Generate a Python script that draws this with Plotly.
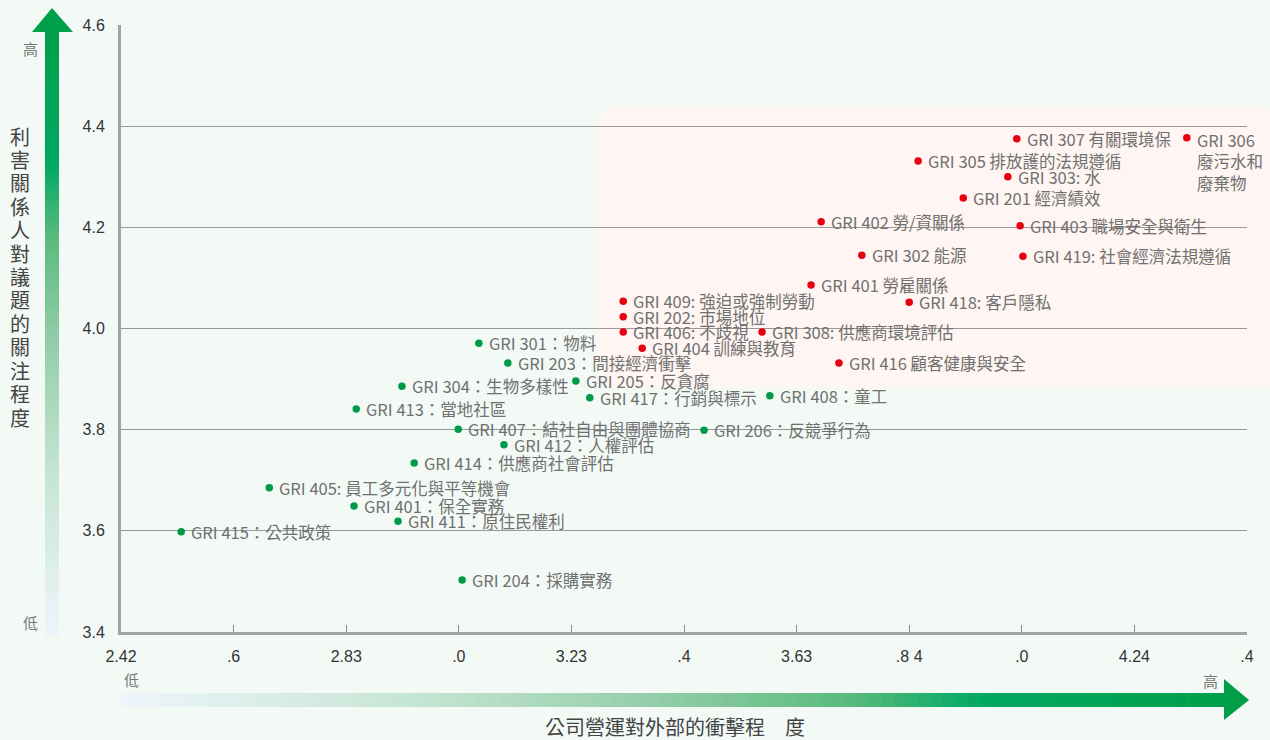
import numpy as np
import plotly.graph_objects as go

# ---------------- data ----------------
red_labels = [
    "GRI 307 有關環境保", "GRI 306<br>廢污水和<br>廢棄物", "GRI 305 排放護的法規遵循", "GRI 303: 水",
    "GRI 201 經濟績效", "GRI 402 勞/資關係", "GRI 403 職場安全與衛生", "GRI 302 能源",
    "GRI 419: 社會經濟法規遵循", "GRI 401 勞雇關係", "GRI 409: 強迫或強制勞動", "GRI 418: 客戶隱私",
    "GRI 202: 市場地位", "GRI 406: 不歧視", "GRI 308: 供應商環境評估", "GRI 404 訓練與教育",
    "GRI 416 顧客健康與安全",
]
red_x = [4.027, 4.332, 3.850, 4.011, 3.931, 3.676, 4.033, 3.749, 4.038, 3.658, 3.321, 3.834,
         3.321, 3.321, 3.570, 3.355, 3.708]
red_y = [4.375, 4.377, 4.331, 4.300, 4.258, 4.211, 4.203, 4.145, 4.143, 4.086, 4.054, 4.052,
         4.023, 3.993, 3.993, 3.961, 3.932]

green_labels = [
    "GRI 301：物料", "GRI 203：間接經濟衝擊", "GRI 304：生物多樣性", "GRI 205：反貪腐",
    "GRI 417：行銷與標示", "GRI 408：童工", "GRI 413：當地社區", "GRI 407：結社自由與團體協商",
    "GRI 206：反競爭行為", "GRI 412：人權評估", "GRI 414：供應商社會評估", "GRI 405: 員工多元化與平等機會",
    "GRI 401：保全實務", "GRI 411：原住民權利", "GRI 415：公共政策", "GRI 204：採購實務",
]
green_x = [3.062, 3.114, 2.924, 3.236, 3.261, 3.584, 2.842, 3.025, 3.466, 3.107, 2.946, 2.686,
           2.838, 2.917, 2.528, 3.032]
green_y = [3.971, 3.932, 3.886, 3.896, 3.863, 3.867, 3.841, 3.801, 3.799, 3.770, 3.734, 3.685,
           3.649, 3.619, 3.598, 3.503]

x_min, x_max = 2.42, 4.44
x_tick_text = ["2.42", ".6", "2.83", ".0", "3.23", ".4", "3.63", ".8 4", ".0", "4.24", ".4"]
y_min, y_max = 3.4, 4.6

y_title = "利害關係人對議題的關注程度"
x_title = "公司營運對外部的衝擊程　度"

# ---------------- layout helpers ----------------
W, H = 1270, 740
L, R, T, B = 121, 23, 25, 108
PW, PH = W - L - R, H - T - B


def px(xp):
    return (xp - L) / PW


def py(yp):
    return (H - B - yp) / PH


BG = "#f3faf6"
RED = "#e60012"
GREEN = "#009b48"
LABEL_FONT = dict(family="Noto Sans CJK TC", size=16.5, color="#707070")

fig = go.Figure()
fig.add_trace(go.Scatter(x=red_x, y=red_y, mode="markers",
                         marker=dict(color=RED, size=7.5), hoverinfo="skip", showlegend=False))
fig.add_trace(go.Scatter(x=green_x, y=green_y, mode="markers",
                         marker=dict(color=GREEN, size=7.5), hoverinfo="skip", showlegend=False))

annotations = []
for lab, xv, yv in list(zip(red_labels, red_x, red_y)) + list(zip(green_labels, green_x, green_y)):
    multi = "<br>" in lab
    annotations.append(dict(
        x=xv, y=yv, xref="x", yref="y", text=lab, showarrow=False,
        xanchor="left", yanchor="top" if multi else "middle",
        xshift=8, yshift=12 if multi else 0, align="left", font=LABEL_FONT))

shapes = []
# pink highlight rounded rectangle
x0, x1, y0, y1, r = 598, 1280, 107, 388, 22
path = (f"M {px(x0 + r)} {py(y0)} L {px(x1 - r)} {py(y0)} Q {px(x1)} {py(y0)} {px(x1)} {py(y0 + r)} "
        f"L {px(x1)} {py(y1 - r)} Q {px(x1)} {py(y1)} {px(x1 - r)} {py(y1)} "
        f"L {px(x0 + r)} {py(y1)} Q {px(x0)} {py(y1)} {px(x0)} {py(y1 - r)} "
        f"L {px(x0)} {py(y0 + r)} Q {px(x0)} {py(y0)} {px(x0 + r)} {py(y0)} Z")
shapes.append(dict(type="path", xref="paper", yref="paper", path=path,
                   fillcolor="#fff5f2", line=dict(width=0), layer="below"))

# gradient helper
stops = [(0.0, (238, 245, 252)), (0.27, (197, 229, 211)), (0.5, (143, 204, 165)),
         (0.66, (90, 186, 126)), (0.78, (0, 168, 98)), (1.0, (0, 160, 74))]


def grad(t):
    for (t0, c0), (t1, c1) in zip(stops[:-1], stops[1:]):
        if t <= t1:
            f = (t - t0) / (t1 - t0)
            c = [round(a + (b - a) * f) for a, b in zip(c0, c1)]
            return f"rgb({c[0]},{c[1]},{c[2]})"
    c = stops[-1][1]
    return f"rgb({c[0]},{c[1]},{c[2]})"


N = 90
# vertical arrow shaft (bottom y=636 -> top y=31)
vb, vt = 636, 31
for i in range(N):
    ya = vb - (vb - vt) * i / N
    yb = vb - (vb - vt) * (i + 1) / N - 0.6
    shapes.append(dict(type="rect", xref="paper", yref="paper", x0=px(45), x1=px(59),
                       y0=py(ya), y1=py(yb), fillcolor=grad((i + 0.5) / N), line=dict(width=0),
                       layer="below"))
shapes.append(dict(type="path", xref="paper", yref="paper",
                   path=f"M {px(32)} {py(32)} L {px(52)} {py(8)} L {px(73)} {py(32)} Z",
                   fillcolor="rgb(0,160,74)", line=dict(width=0), layer="below"))
# horizontal arrow shaft (x=120 -> 1225)
hl, hr = 120, 1225
for i in range(N):
    xa = hl + (hr - hl) * i / N
    xb = hl + (hr - hl) * (i + 1) / N + 0.6
    shapes.append(dict(type="rect", xref="paper", yref="paper", x0=px(xa), x1=px(xb),
                       y0=py(707), y1=py(693), fillcolor=grad((i + 0.5) / N), line=dict(width=0),
                       layer="below"))
shapes.append(dict(type="path", xref="paper", yref="paper",
                   path=f"M {px(1224)} {py(679)} L {px(1249)} {py(700)} L {px(1224)} {py(720)} Z",
                   fillcolor="rgb(0,158,72)", line=dict(width=0), layer="below"))

# axis titles and low/high labels
TITLE_FONT = dict(family="Noto Sans CJK TC", size=20, color="#444444")
SMALL_FONT = dict(family="Noto Sans CJK TC", size=15, color="#777777")
n = len(y_title)
for i, ch in enumerate(y_title):
    yp = 136 + i * (417 - 136) / (n - 1)
    annotations.append(dict(x=px(20), y=py(yp), xref="paper", yref="paper", text=ch,
                            showarrow=False, xanchor="center", yanchor="middle", font=TITLE_FONT))
annotations.append(dict(x=px(675), y=py(726), xref="paper", yref="paper", text=x_title,
                        showarrow=False, xanchor="center", yanchor="middle", font=TITLE_FONT))
for txt, xp, yp in [("高", 30, 48), ("低", 30, 622), ("低", 131, 679), ("高", 1210, 680)]:
    annotations.append(dict(x=px(xp), y=py(yp), xref="paper", yref="paper", text=txt,
                            showarrow=False, xanchor="center", yanchor="middle", font=SMALL_FONT))

fig.update_layout(
    width=W, height=H, autosize=False,
    margin=dict(l=L, r=R, t=T, b=B, pad=0),
    paper_bgcolor=BG, plot_bgcolor="rgba(0,0,0,0)",
    shapes=shapes, annotations=annotations, showlegend=False,
    xaxis=dict(range=[x_min, x_max], tickvals=list(np.linspace(x_min, x_max, len(x_tick_text))),
               ticktext=x_tick_text, showgrid=False, zeroline=False, showline=True,
               linecolor="#a3a3a3", linewidth=3, ticks="inside", ticklen=7, tickwidth=1,
               tickcolor="#8a8a8a", ticklabelstandoff=8,
               tickfont=dict(family="Liberation Sans", size=16, color="#333333")),
    yaxis=dict(range=[y_min, y_max], tick0=y_min, dtick=0.2, tickformat=".1f",
               showgrid=True, gridcolor="#999999", gridwidth=1, zeroline=False, showline=True,
               linecolor="#a3a3a3", linewidth=3, ticks="", ticklabelstandoff=10,
               tickfont=dict(family="Liberation Sans", size=16, color="#333333")),
)

fig.write_html(
    "out.html",
    config={"displayModeBar": False},
    post_script=("document.body.style.margin='0';document.body.style.padding='0';"
                 "document.body.style.overflow='hidden';"
                 f"document.body.style.background='{BG}';"),
)
